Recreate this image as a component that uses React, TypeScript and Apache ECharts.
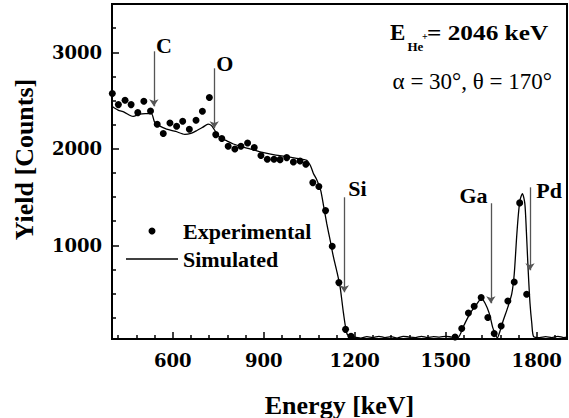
import React, { useEffect, useRef } from 'react';
import * as echarts from 'echarts';

// Experimental RBS spectrum (energy keV, yield counts)
const expEnergy = [401, 421, 443, 463, 485, 505, 527, 549, 569, 591, 613, 633, 655, 677, 698, 721, 742, 762, 783, 805, 825, 847, 869, 891, 912, 934, 954, 976, 998, 1020, 1039, 1062, 1082, 1104, 1126, 1148, 1170, 1188, 1210, 1231, 1252, 1273, 1294, 1315, 1336, 1357, 1378, 1399, 1420, 1441, 1462, 1483, 1504, 1531, 1553, 1575, 1594, 1617, 1639, 1660, 1683, 1705, 1726, 1744, 1767, 1788, 1809, 1830, 1851, 1872, 1893];
const expYield = [2572, 2458, 2503, 2458, 2375, 2492, 2392, 2254, 2158, 2268, 2233, 2285, 2202, 2296, 2389, 2531, 2147, 2106, 2026, 1998, 2026, 2060, 2013, 1930, 1891, 1891, 1888, 1909, 1864, 1874, 1840, 1650, 1610, 1360, 990, 614, 130, 58, 20, 20, 20, 20, 20, 20, 20, 20, 20, 20, 20, 20, 20, 20, 20, 50, 138, 300, 369, 459, 252, 86, 165, 423, 620, 1440, 493, 20, 20, 20, 20, 20, 20];

// Simulated spectrum
const simEnergy = [400, 420, 440, 460, 470, 490, 510, 530, 540, 555, 580, 610, 640, 660, 680, 700, 717, 728, 740, 755, 780, 800, 830, 866, 900, 940, 976, 1010, 1042, 1055, 1064, 1075, 1088, 1098, 1108, 1120, 1130, 1142, 1152, 1163, 1174, 1185, 1200, 1220, 1240, 1260, 1280, 1300, 1320, 1340, 1360, 1380, 1400, 1420, 1440, 1460, 1480, 1500, 1520, 1540, 1560, 1580, 1600, 1618, 1630, 1644, 1655, 1663, 1670, 1680, 1690, 1705, 1718, 1726, 1734, 1740, 1745, 1753, 1761, 1766, 1772, 1778, 1784, 1790, 1810, 1830, 1850, 1870, 1890, 1900];
const simYield = [2440, 2400, 2380, 2345, 2335, 2360, 2365, 2365, 2280, 2240, 2205, 2180, 2150, 2160, 2190, 2225, 2255, 2240, 2185, 2120, 2080, 2050, 2020, 1990, 1960, 1935, 1920, 1900, 1880, 1820, 1745, 1680, 1570, 1400, 1225, 1040, 880, 720, 570, 300, 90, 50, 50, 40, 55, 45, 58, 45, 55, 40, 58, 50, 45, 58, 45, 55, 50, 58, 50, 45, 170, 293, 380, 448, 400, 293, 150, 86, 40, 120, 224, 360, 500, 700, 1087, 1330, 1467, 1536, 1432, 1150, 742, 400, 190, 55, 45, 55, 45, 58, 45, 50];

// Element edge annotations
const elemNames = ['C', 'O', 'Si', 'Ga', 'Pd'];
const arrowEnergy = [538, 737, 1166, 1649, 1778];
const arrowTop = [3010, 2834, 1498, 1436, 1601];
const arrowTip = [2440, 2213, 514, 400, 742];
const labelEnergy = [571, 772, 1209, 1592, 1841];
const labelYield = [3067, 2881, 1586, 1513, 1565];

// Axis ticks
const xLabels = [600, 900, 1200, 1500, 1800];
const xMinor = [420, 480, 540, 660, 720, 780, 840, 960, 1020, 1080, 1140, 1260, 1320, 1380, 1440, 1560, 1620, 1680, 1740, 1860];
const yLabels = [1000, 2000, 3000];
const yMinor = [250, 500, 750, 1250, 1500, 1750, 2250, 2500, 2750, 3250];

const SERIF = 'Liberation Serif';
const WIDE = 'DejaVu Serif';

export default function App() {
  const ref = useRef<HTMLDivElement>(null);
  useEffect(() => {
    const chart = echarts.init(ref.current!, null, { renderer: 'svg' });
    const expData = expEnergy.map((e, i) => [e, expYield[i]]);
    const simData = simEnergy.map((e, i) => [e, simYield[i]]);
    const arrows = elemNames.map((n, i) => [
      { coord: [arrowEnergy[i], arrowTop[i]] },
      { coord: [arrowEnergy[i], arrowTip[i]] },
    ]);
    const labels = elemNames.map((n, i) => ({ name: n, value: [labelEnergy[i], labelYield[i]] }));
    const plain = (v: number) => String(v);

    const baseAxis = {
      type: 'value',
      splitLine: { show: false },
    };

    chart.setOption({
      animation: false,
      grid: { left: 112, top: 4, right: 2, bottom: 79, show: true, borderColor: '#000', borderWidth: 2, backgroundColor: 'transparent', outerBoundsMode: 'none' },
      xAxis: [
        {
          ...baseAxis,
          min: 400, max: 1900, position: 'bottom',
          axisLine: { show: true, onZero: false, lineStyle: { color: '#000', width: 2 } },
          axisTick: { show: true, inside: true, length: 7, customValues: xLabels, lineStyle: { color: '#000', width: 1.5 } },
          axisLabel: { customValues: xLabels, formatter: plain, color: '#000', fontFamily: WIDE, fontWeight: 'bold', fontSize: 18, margin: 12 },
          name: 'Energy [keV]', nameLocation: 'middle', nameGap: 53,
          nameTextStyle: { color: '#000', fontFamily: SERIF, fontWeight: 'bold', fontSize: 26 },
        },
        {
          ...baseAxis,
          min: 400, max: 1900, position: 'bottom',
          axisLine: { show: false, onZero: false },
          axisTick: { show: true, inside: true, length: 4, customValues: xMinor, lineStyle: { color: '#000', width: 1.5 } },
          axisLabel: { show: false },
        },
      ],
      yAxis: [
        {
          ...baseAxis,
          min: 30, max: 3500, position: 'left',
          axisLine: { show: true, onZero: false, lineStyle: { color: '#000', width: 2 } },
          axisTick: { show: true, inside: true, length: 7, customValues: yLabels, lineStyle: { color: '#000', width: 1.5 } },
          axisLabel: { customValues: yLabels, formatter: plain, color: '#000', fontFamily: WIDE, fontWeight: 'bold', fontSize: 18, margin: 10 },
          name: 'Yield [Counts]', nameLocation: 'middle', nameGap: 75,
          nameTextStyle: { color: '#000', fontFamily: SERIF, fontWeight: 'bold', fontSize: 26, padding: [0, 0, 0, 24] },
        },
        {
          ...baseAxis,
          min: 30, max: 3500, position: 'left',
          axisLine: { show: false, onZero: false },
          axisTick: { show: true, inside: true, length: 4, customValues: yMinor, lineStyle: { color: '#000', width: 1.5 } },
          axisLabel: { show: false },
        },
      ],
      legend: {
        orient: 'vertical', left: 121, top: 215, itemWidth: 52, itemHeight: 7, itemGap: 6,
        selectedMode: false, symbolKeepAspect: true,
        textStyle: { color: '#000', fontFamily: SERIF, fontWeight: 'bold', fontSize: 22 },
        data: [
          { name: 'Experimental', icon: 'circle' },
          { name: 'Simulated', icon: 'path://M0 0H52V1.4H0Z' },
        ],
      },
      series: [
        {
          name: 'Simulated', type: 'line', data: simData, smooth: 0.25, symbol: 'none',
          lineStyle: { color: '#000', width: 1.3 }, itemStyle: { color: '#000' },
          markLine: {
            silent: true, symbol: ['none', 'arrow'], symbolSize: 7, animation: false,
            label: { show: false },
            lineStyle: { color: '#555', width: 1.3, type: 'solid' },
            data: arrows,
          },
        },
        {
          name: 'Experimental', type: 'scatter', data: expData, symbol: 'circle', symbolSize: 7,
          itemStyle: { color: '#000', opacity: 1 },
        },
        {
          name: 'labels', type: 'scatter', data: labels, symbolSize: 1, silent: true,
          itemStyle: { color: 'rgba(0,0,0,0)', opacity: 1 },
          label: { show: true, position: 'inside', formatter: '{b}', color: '#000', opacity: 1, fontFamily: SERIF, fontWeight: 'bold', fontSize: 22 },
        },
      ],
      graphic: [
        { type: 'text', x: 390, y: 32.5, style: { text: 'E', fill: '#000', font: `bold 23px "${SERIF}"`, textAlign: 'left', verticalAlign: 'middle' } },
        { type: 'text', x: 407.5, y: 46, style: { text: 'He', fill: '#000', font: `bold 13px "${SERIF}"`, textAlign: 'left', verticalAlign: 'middle' } },
        { type: 'text', x: 422, y: 36.5, style: { text: '+', fill: '#000', font: `bold 10px "${SERIF}"`, textAlign: 'left', verticalAlign: 'middle' } },
        { type: 'text', x: 427, y: 32.5, scaleX: 1.15, style: { text: '= 2046 keV', fill: '#000', font: `bold 22px "${SERIF}"`, textAlign: 'left', verticalAlign: 'middle' } },
        { type: 'text', x: 552, y: 81.5, style: { text: 'α = 30°, θ = 170°', fill: '#000', font: `23px "${SERIF}"`, textAlign: 'right', verticalAlign: 'middle' } },
      ],
    });
    return () => chart.dispose();
  }, []);
  return <div ref={ref} style={{ position: 'absolute', left: 0, top: 0, width: 569, height: 418 }} />;
}
